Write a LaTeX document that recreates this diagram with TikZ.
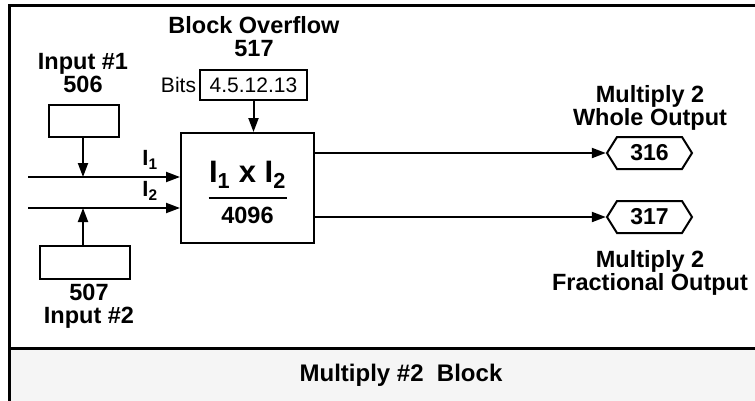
\documentclass[tikz,border=0pt]{standalone}
\usepackage{fontspec}
\setmainfont{Liberation Sans}
\usetikzlibrary{arrows.meta,shapes.symbols}

\begin{document}
\begin{tikzpicture}[x=1pt,y=-1pt,line width=2pt,>={Triangle[length=14pt,width=10pt]}]
	\tikzstyle{lbl}=[font=\fontsize{23.5}{23}\selectfont\bfseries, align=center, inner sep=0pt]
	\tikzstyle{plain}=[font=\fontsize{21}{23}\selectfont, inner sep=0pt]
	\tikzstyle{regbox}=[draw, rectangle, inner sep=0pt]
	\tikzstyle{outhex}=[draw, signal, signal from=nowhere, signal to=east and west, signal pointer angle=116,
		minimum width=85pt, minimum height=32pt, inner sep=0pt, font=\fontsize{23}{23}\selectfont\bfseries]
	\useasboundingbox (0,0) rectangle (755,400);
	
	% Draw the frame and the title panel
	\fill[black!4] (9,348) rectangle (760,405);
	\draw[line width=3pt] (9,405) -- (9,5) -- (760,5);
	\draw[line width=3pt] (9,348) -- (760,348);
	\node[lbl, font=\fontsize{24}{26}\selectfont\bfseries] (title) at (401,375) {Multiply \#2~~Block};
	
	% Draw the multiply block
	\node[regbox, minimum width=133pt, minimum height=110pt] (mult) at (247.5,188) {};
	\node[lbl, font=\fontsize{31}{32}\selectfont\bfseries] (prod) at ([yshift=13pt]mult.center) {I\textsubscript{1} x I\textsubscript{2}};
	\node[lbl] (den) at ([yshift=-27pt]mult.center) {4096};
	\draw ([xshift=-39pt,yshift=-10pt]mult.center) -- ([xshift=39pt,yshift=-10pt]mult.center);
	
	% Draw the overflow register
	\node[regbox, plain, minimum width=107pt, minimum height=30pt] (ovf) at (253.5,85) {4.5.12.13};
	\node[plain, anchor=east] (bits) at ([xshift=-2pt]ovf.west) {Bits};
	\node[lbl] (ovfname) at (254,37) {Block Overflow\\517};
	\draw[->] (ovf.south) -- (mult.north -| ovf.south);
	
	% Draw the input registers
	\node[regbox, minimum width=70pt, minimum height=32pt] (in1) at (84,121) {};
	\node[lbl] (in1name) at (83,73) {Input \#1\\506};
	\node[regbox, minimum width=90pt, minimum height=33pt] (in2) at (85,262) {};
	\node[lbl] (in2name) at (89,306) {507\\Input \#2};
	
	% Draw the input lines into the block
	\coordinate (s1) at (28,177);
	\coordinate (s2) at (28,208);
	\draw[->] (s1) -- (mult.west |- s1);
	\draw[->] (s2) -- (mult.west |- s2);
	\draw[->] (in1.south -| 83,0) -- (83,177);
	\draw[->] (in2.north -| 83,0) -- (83,208);
	\node[lbl, font=\fontsize{22}{22}\selectfont\bfseries] (l1) at (150,160) {I\textsubscript{1}};
	\node[lbl, font=\fontsize{22}{22}\selectfont\bfseries] (l2) at (150,191) {I\textsubscript{2}};
	
	% Draw the outputs
	\foreach \name/\y in {316/153,317/217}{
		\node[outhex] (O-\name) at (649.5,\y) {\name};
		\draw[->] (mult.east |- O-\name.west) -- (O-\name.west);
	}
	\node[lbl] (wholename) at (650,108) {Multiply 2\\Whole Output};
	\node[lbl] (fracname) at (650,273) {Multiply 2\\Fractional Output};
	
\end{tikzpicture}
\end{document}
